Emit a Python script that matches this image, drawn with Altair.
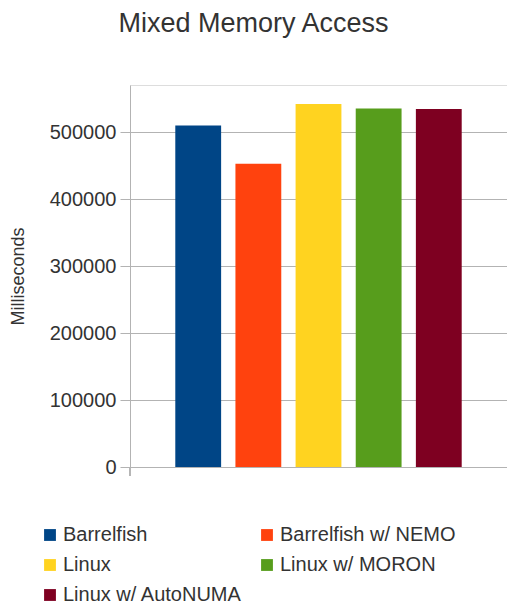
import altair as alt
import pandas as pd

series = ["Barrelfish", "Barrelfish w/ NEMO", "Linux", "Linux w/ MORON", "Linux w/ AutoNUMA"]
values = [510600, 453400, 542600, 536000, 535000]
colors = ["#004586", "#ff420e", "#ffd320", "#579d1c", "#7e0021"]
y_ticks = [0, 100000, 200000, 300000, 400000, 500000]

df = pd.DataFrame({"series": series, "value": values})

FONT = "Liberation Sans"
GRID = "#b3b3b3"

bars = alt.Chart(df).mark_bar().encode(
    x=alt.X("series:N", sort=series, axis=None,
            scale=alt.Scale(paddingInner=0.238, paddingOuter=0.753)),
    y=alt.Y("value:Q",
            scale=alt.Scale(domain=[0, 571000], nice=False, zero=True),
            axis=alt.Axis(values=y_ticks, format="d", title="Milliseconds",
                          tickSize=10, tickColor=GRID, domainColor=GRID, gridColor=GRID,
                          labelFontSize=20, labelColor="#333333", labelFont=FONT,
                          labelPadding=4, titleFontSize=18, titleFont=FONT,
                          titleFontWeight="normal", titleColor="#333333",
                          titleX=-112, titleY=191, titleAngle=270,
                          titleAlign="center", titleBaseline="middle")),
    color=alt.Color("series:N", sort=series,
                    scale=alt.Scale(domain=series, range=colors),
                    legend=alt.Legend(orient="none", legendX=-90, legendY=440,
                                      direction="horizontal",
                                      columns=2, title=None, symbolType="square",
                                      symbolSize=140, symbolStrokeWidth=0,
                                      labelFontSize=20, labelFont=FONT, labelLimit=400,
                                      labelColor="#333333", rowPadding=10,
                                      columnPadding=15, labelOffset=3, padding=0)),
)

xtick = alt.Chart(df).mark_rule(color=GRID, strokeWidth=1).encode(
    x=alt.value(0), y=alt.value(382), y2=alt.value(391)
)

chart = alt.layer(bars, xtick).properties(
    width=377, height=382,
    title=alt.TitleParams("Mixed Memory Access", fontSize=27, font=FONT,
                          fontWeight="normal", color="#333333", anchor="middle",
                          dx=-65, baseline="alphabetic", offset=26),
    autosize=alt.AutoSizeParams(type="none"),
    padding={"left": 130, "top": 85, "right": 0, "bottom": 137},
).configure_view(stroke=GRID, strokeWidth=1).configure(background="white")

chart.save("out.html", embed_options={"renderer": "svg", "actions": False})
